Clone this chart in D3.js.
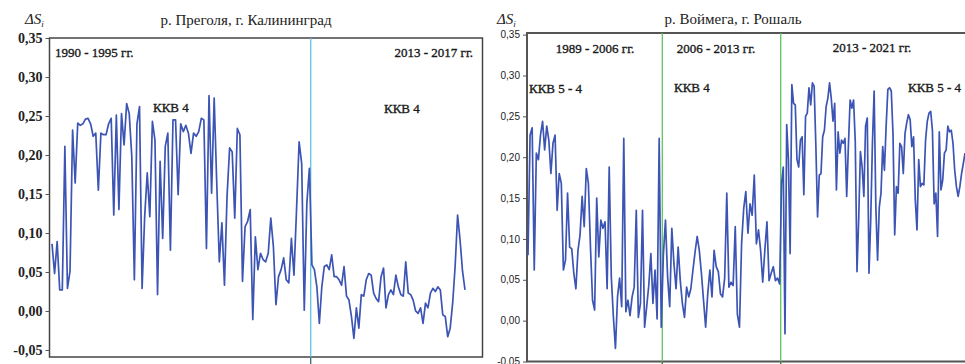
<!DOCTYPE html>
<html>
<head>
<meta charset="utf-8">
<script src="https://cdn.jsdelivr.net/npm/d3@7"></script>
<style>
  body { margin: 0; background: #fff; }
  svg { display: block; }
</style>
</head>
<body>
<svg class="main" width="965" height="364"></svg>
<script>
(function () {
  'use strict';

  // р. Преголя, г. Калининград : 1990-1995 / 2013-2017
  const pregolyaEarly = [
    0.086, 0.048, 0.089, 0.027, 0.027, 0.211, 0.029, 0.051, 0.232, 0.164,
    0.241, 0.238, 0.240, 0.246, 0.247, 0.240, 0.224, 0.228, 0.155, 0.228,
    0.226, 0.226, 0.240, 0.247, 0.123, 0.251, 0.130, 0.253, 0.213, 0.266,
    0.253, 0.198, 0.040, 0.240, 0.262, 0.029, 0.121, 0.177, 0.121, 0.243,
    0.219, 0.021, 0.192, 0.093, 0.211, 0.228, 0.078, 0.245, 0.245,
    0.149, 0.240, 0.230, 0.238, 0.228, 0.202, 0.228, 0.224, 0.230, 0.247,
    0.245, 0.080, 0.276, 0.151, 0.273, 0.164, 0.063, 0.113, 0.033, 0.147,
    0.209, 0.204, 0.119, 0.234, 0.226, 0.038, 0.108, 0.115, 0.130, -0.011,
    0.095, 0.053, 0.074, 0.066, 0.063, 0.074, 0.119, 0.083, 0.008, 0.044,
    0.053, 0.068, 0.040, 0.036, 0.093, 0.046, 0.130, 0.217, 0.189, 0.001,
    0.138, 0.183
  ];
  const pregolyaLate = [
    0.059, 0.053, 0.031, -0.016, 0.031, 0.057, 0.059, 0.053, 0.072, 0.044,
    0.044, 0.040, 0.033, 0.057, 0.019, 0.014, -0.007, -0.035, 0.004, -0.022,
    0.021, 0.019, 0.040, 0.048, 0.046, 0.023, 0.016, 0.012, 0.044, 0.055,
    0.004, 0.021, 0.027, 0.021, 0.046, 0.031, 0.021, 0.019, 0.063, 0.023,
    0.021, 0.014, 0.000, -0.003, 0.004, -0.016, 0.010, 0.004, 0.023, 0.029,
    0.025, 0.031, 0.027, -0.005, -0.007, -0.033, -0.022, 0.010, 0.057, 0.123,
    0.091, 0.051, 0.027
  ];

  // р. Воймега, г. Рошаль : 1989-2006 / 2006-2013 / 2013-2021
  const voymega1 = [
    0.080, 0.227, 0.236, 0.062, 0.205, 0.197, 0.227, 0.244, 0.209, 0.238,
    0.221, 0.180, 0.217, 0.227, 0.135, 0.180, 0.168, 0.062, 0.074, 0.156,
    0.090, 0.088, 0.058, 0.039, 0.086, 0.105, 0.152, 0.115, 0.186, 0.168,
    0.090, 0.025, 0.013, 0.150, 0.078, 0.123, 0.113, 0.121, 0.039, 0.188,
    0.054, 0.005, -0.034, 0.029, 0.052, 0.017, 0.223, 0.011, 0.025, 0.006,
    0.029, 0.041, 0.135, 0.004, 0.021, 0.135, -0.008, 0.017, 0.043, 0.082,
    0.021, 0.062, 0.002, 0.223, -0.008
  ];
  const voymega2 = [
    0.080, 0.123, 0.054, 0.017, 0.113, 0.070, 0.039, 0.090, 0.049, 0.021,
    0.004, 0.041, 0.029, 0.039, 0.062, 0.084, 0.103, 0.086, 0.058, 0.025,
    -0.008, 0.033, 0.062, 0.029, 0.086, 0.066, 0.060, 0.033, 0.029, 0.052,
    0.156, 0.041, 0.047, 0.043, 0.115, 0.008, -0.008, 0.094, 0.137, 0.158,
    0.107, 0.143, 0.129, 0.178, 0.094, 0.111, 0.086, 0.047, 0.086, 0.121,
    0.049, 0.058, 0.066, 0.049, 0.052, 0.045
  ];
  const voymega3 = [
    0.168, 0.188, -0.016, 0.240, 0.197, 0.082, 0.289, 0.266, 0.264, 0.197,
    0.188, 0.221, 0.225, 0.154, 0.250, 0.254, 0.285, 0.264, 0.291, 0.287,
    0.215, 0.127, 0.178, 0.180, 0.225, 0.233, 0.262, 0.272, 0.291, 0.272,
    0.244, 0.266, 0.160, 0.231, 0.205, 0.221, 0.217, 0.223, 0.152, 0.215,
    0.270, 0.260, 0.270, 0.219, 0.060, 0.125, 0.207, 0.188, 0.152, 0.238,
    0.248, 0.058, 0.123, 0.217, 0.281, 0.139, 0.074, 0.139, 0.156, 0.213,
    0.184, 0.238, 0.283, 0.285, 0.281, 0.229, 0.105, 0.164, 0.156, 0.217,
    0.213, 0.180, 0.229, 0.242, 0.252, 0.246, 0.213, 0.225, 0.148, 0.111,
    0.197, 0.164, 0.168, 0.166, 0.221, 0.244, 0.254, 0.256, 0.233, 0.143,
    0.156, 0.103, 0.231, 0.160, 0.172, 0.205, 0.209, 0.238, 0.231, 0.233,
    0.217, 0.184, 0.164, 0.152, 0.164, 0.180, 0.192, 0.205
  ];

  const yTicks = [-0.05, 0, 0.05, 0.10, 0.15, 0.20, 0.25, 0.30, 0.35];

  const titles = ["р. Преголя, г. Калининград", "р. Воймега, г. Рошаль"];
  const pregolyaNotes = ["1990 - 1995 гг.", "ККВ 4", "2013 - 2017 гг.", "ККВ 4"];
  const voymegaNotes = [
    "1989 - 2006 гг.", "ККВ 5 - 4",
    "2006 - 2013 гг.", "ККВ 4",
    "2013 - 2021 гг.", "ККВ 5 - 4"
  ];

  const lineBlue = "#3c54b4";
  const serif = "'Liberation Serif', 'DejaVu Serif', serif";
  const sans = "'Liberation Sans', Arial, sans-serif";

  const fmt = d3.formatLocale({
    decimal: ",", thousands: " ", grouping: [3], currency: ["", ""], minus: "-"
  }).format(".2f");

  const svg = d3.select("svg.main");

  function drawPanel(opt) {
    const g = svg.append("g");
    const series = opt.segments.flat();

    // breakpoints between periods -> divider positions
    const breaks = [0];
    let n = 0;
    opt.segments.forEach((s, i) => {
      n += s.length;
      if (i < opt.segments.length - 1) breaks.push(n - 0.5);
    });
    breaks.push(series.length - 1);

    const x = d3.scaleLinear().domain(breaks).range(opt.xRange);
    const y = d3.scaleLinear().domain(opt.yDomain).range([opt.bottom, opt.top]);

    // frame
    g.append("rect")
      .attr("x", opt.left)
      .attr("y", opt.top)
      .attr("width", opt.right - opt.left)
      .attr("height", opt.bottom - opt.top)
      .attr("fill", "none")
      .attr("stroke", opt.frameColor)
      .attr("stroke-width", opt.frameWidth);

    // y axis
    const axis = g.append("g")
      .attr("transform", `translate(${opt.left},0)`)
      .call(d3.axisLeft(y).tickValues(yTicks).tickFormat(fmt).tickSize(4).tickSizeOuter(0));
    axis.select(".domain").remove();
    axis.selectAll(".tick line").attr("stroke", "#555");
    axis.selectAll(".tick text")
      .attr("x", opt.labelX)
      .attr("fill", "#222")
      .style("font-family", opt.tickFont)
      .style("font-size", opt.tickSize)
      .style("font-weight", opt.tickWeight);

    // period dividers
    breaks.slice(1, -1).forEach(b => {
      g.append("line")
        .attr("x1", x(b)).attr("x2", x(b))
        .attr("y1", opt.top).attr("y2", opt.bottom + 7)
        .attr("stroke", opt.dividerColor)
        .attr("stroke-width", 1.3);
      g.append("line")
        .attr("x1", x(b)).attr("x2", x(b))
        .attr("y1", opt.bottom).attr("y2", opt.bottom + 7)
        .attr("stroke", "#555");
    });

    // series
    const line = d3.line().x((d, i) => x(i)).y(d => y(d));
    g.append("path")
      .attr("d", line(series))
      .attr("fill", "none")
      .attr("stroke", lineBlue)
      .attr("stroke-width", 1.7)
      .attr("stroke-linejoin", "round");

    // ΔS_i label
    const ds = g.append("text")
      .attr("x", opt.dsX)
      .attr("y", 24)
      .attr("fill", "#222")
      .style("font-family", serif)
      .style("font-style", "italic")
      .style("font-size", "15px")
      .text("ΔS");
    ds.append("tspan").attr("dy", 3).style("font-size", "9px").text("i");

    // title
    g.append("text")
      .attr("x", opt.titleX)
      .attr("y", opt.titleY)
      .attr("text-anchor", "middle")
      .attr("fill", "#222")
      .style("font-family", serif)
      .style("font-size", "15px")
      .text(opt.title);

    // notes
    opt.notes.forEach((t, i) => {
      const p = opt.notePos[i];
      g.append("text")
        .attr("x", p[0])
        .attr("y", p[1])
        .attr("text-anchor", p[2] || "start")
        .attr("fill", "#1a1a1a")
        .attr("stroke", "#1a1a1a")
        .attr("stroke-width", 0.35)
        .style("font-family", serif)
        .style("font-size", "13px")
        .text(t);
    });

    return g;
  }

  drawPanel({
    segments: [pregolyaEarly, pregolyaLate],
    left: 49.5, right: 482.5, top: 38, bottom: 357,
    xRange: [52, 310.7, 465],
    yDomain: [-0.059, 0.35],
    frameColor: "#444", frameWidth: 1.5,
    dividerColor: "#5bc3e0",
    tickFont: serif, tickSize: "14px", tickWeight: "bold", labelX: -7,
    dsX: 25, titleX: 246, titleY: 25, title: titles[0],
    notes: pregolyaNotes,
    notePos: [[55, 57], [153, 112], [473, 57, "end"], [384, 113]]
  });

  drawPanel({
    segments: [voymega1, voymega2, voymega3],
    left: 527, right: 1010, top: 33, bottom: 361.5,
    xRange: [528, 662.3, 780.7, 965],
    yDomain: [-0.05, 0.352],
    frameColor: "#555", frameWidth: 2,
    dividerColor: "#5dc65d",
    tickFont: sans, tickSize: "10px", tickWeight: "normal", labelX: -7,
    dsX: 497, titleX: 733, titleY: 24, title: titles[1],
    notes: voymegaNotes,
    notePos: [[595, 53, "middle"], [529, 93], [716, 53, "middle"], [674, 92], [872, 52, "middle"], [908, 92]]
  });

}());
</script>
</body>
</html>
